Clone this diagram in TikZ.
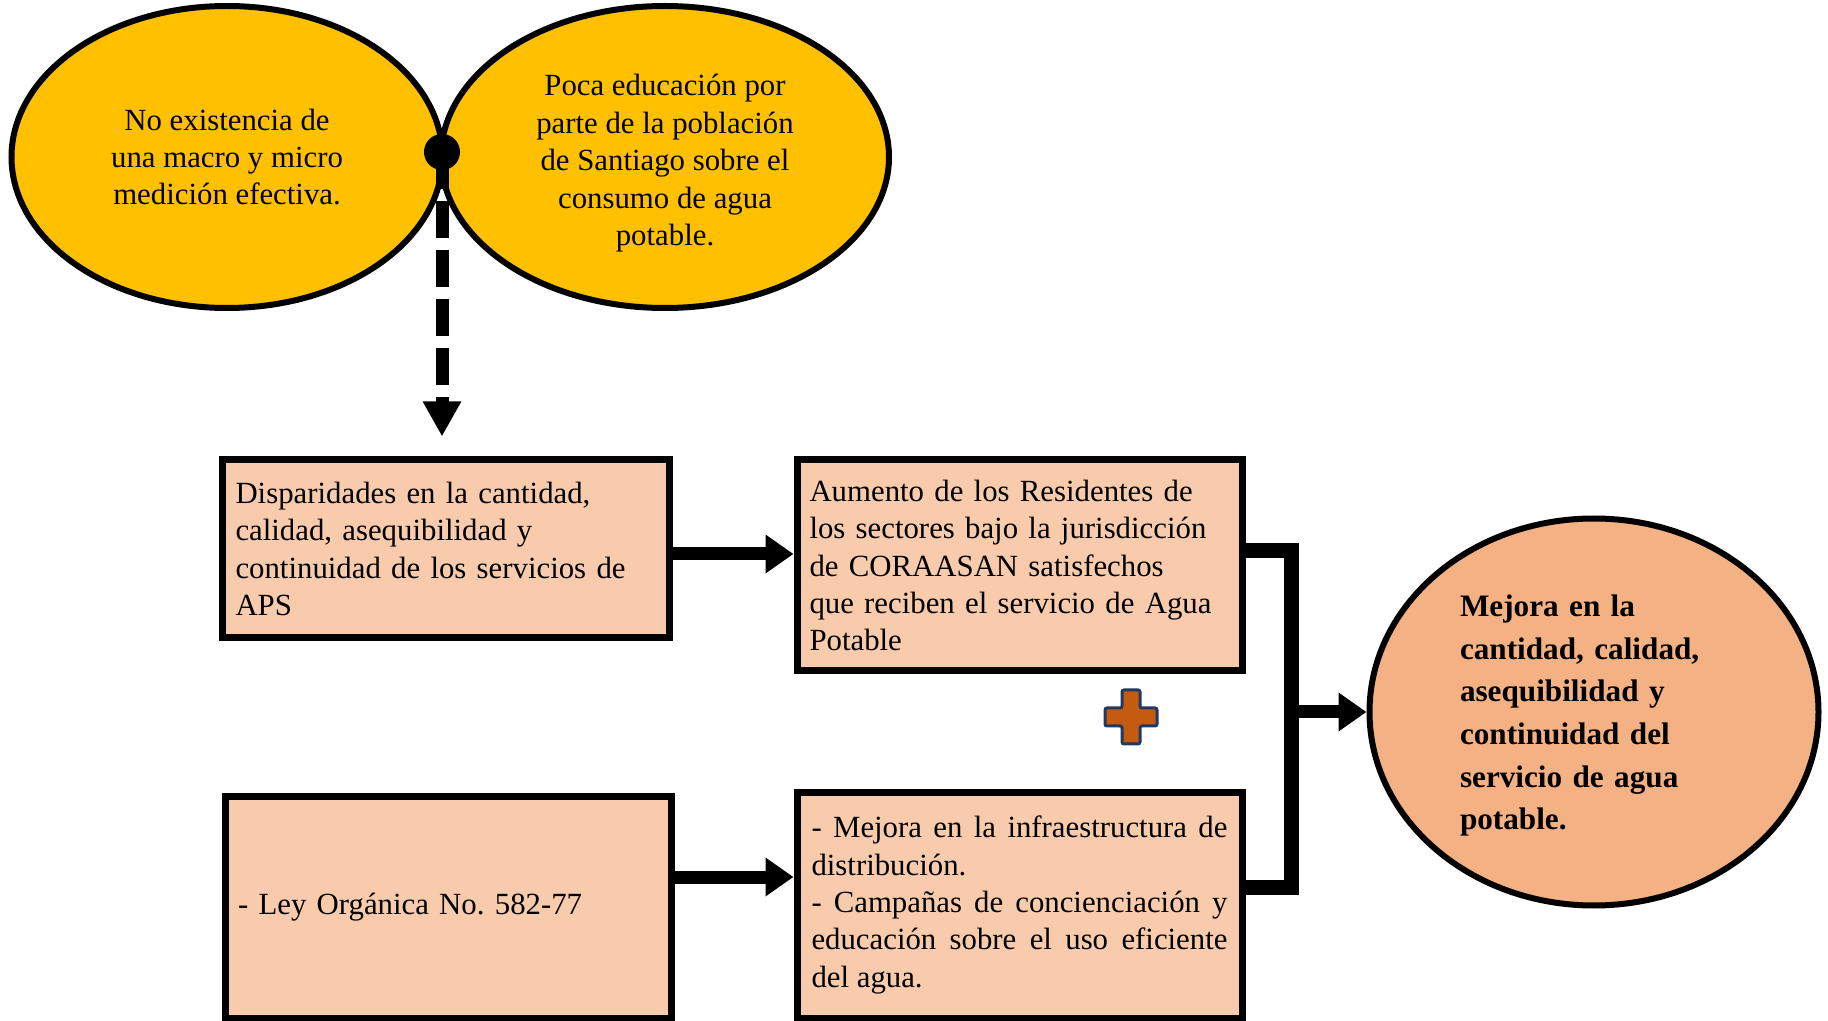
\documentclass[tikz,border=0pt]{standalone}
\usepackage{fontspec}
\setmainfont{Liberation Serif}
\usetikzlibrary{shapes.geometric,arrows.meta}
\definecolor{cause-yellow}{HTML}{FFC000}
\definecolor{box-peach}{HTML}{F8CBAD}
\definecolor{goal-orange}{HTML}{F4B183}
\definecolor{plus-orange}{HTML}{C55A11}
\definecolor{plus-navy}{HTML}{1F3864}
\frenchspacing
\hyphenpenalty=10000
\tikzset{
    cause-ellipse/.style = {draw=black, fill=cause-yellow, line width=3pt, ellipse, inner sep=0pt, align=center, font=\fontsize{15.4pt}{18.7pt}\selectfont},
    problem-box/.style = {draw=black, fill=box-peach, line width=3.5pt, rectangle, inner sep=0pt, text width=210pt, align=left, font=\fontsize{15.4pt}{18.7pt}\selectfont},
    goal-ellipse/.style = {draw=black, fill=goal-orange, line width=3pt, ellipse, inner sep=0pt, text width=134pt, align=left, font=\bfseries\fontsize{15.6pt}{21.3pt}\selectfont},
    flow-arrow/.style = {line width=6.5pt, -{Triangle[length=14pt,width=18.5pt]}},
    dash-arrow/.style = {line width=6.5pt, dash pattern=on 18.5pt off 6pt, -{Triangle[length=17.5pt,width=18pt]}},
    bracket-line/.style = {line width=7.5pt, line join=miter},
    plus-sign/.style = {fill=plus-orange, draw=plus-navy, line width=1.5pt, rounded corners=1pt},
}
\begin{document}
\begin{tikzpicture}[x=0.5pt, y=-0.5pt]
\useasboundingbox (0,0) rectangle (1828,1021);
\node[cause-ellipse, minimum width=215.5pt, minimum height=151pt] (cause1) at (227,157) {No existencia de\\una macro y micro\\medición efectiva.};
\node[cause-ellipse, minimum width=224pt, minimum height=151pt] (cause2) at (665,157) {\rule{0pt}{17pt}Poca educación por\\parte de la población\\de Santiago sobre el\\consumo de agua\\potable.};
\node[circle, fill=black, minimum size=18pt, inner sep=0pt] (junction) at (442,152) {};

\node[problem-box, minimum width=223.5pt, minimum height=89pt] (box1) at (445.5,549) {Disparidades en la cantidad,\\calidad, asequibilidad y\\continuidad de los servicios de\\APS};
\node[problem-box, minimum width=222.5pt, minimum height=105.5pt] (box2) at (1019.5,565.5) {Aumento de los Residentes de\\los sectores bajo la jurisdicción\\de CORAASAN satisfechos\\que reciben el servicio de Agua\\Potable};
\node[problem-box, minimum width=223pt, minimum height=111pt] (box3) at (448,907) {- Ley Orgánica No. 582-77};
\node[problem-box, align=justify, text width=208pt, minimum width=222.5pt, minimum height=113pt] (box4) at (1019.5,905) {- Mejora en la infraestructura de\linebreak distribución.\\- Campañas de concienciación y\linebreak educación sobre el uso eficiente\linebreak del agua.};
\node[goal-ellipse, minimum width=224.5pt, minimum height=193.5pt] (goal) at (1594,712) {\rule{0pt}{14.5pt}Mejora en la\\cantidad, calidad,\\asequibilidad y\\continuidad del\\servicio de agua\\potable.};

\draw[dash-arrow, shorten >=10pt] (junction.center) -- (junction |- box1.north);
\coordinate (a1) at ([yshift=-2.5pt]box1.east);
\draw[flow-arrow] (a1) -- (a1 -| box2.west);
\coordinate (a3) at ([yshift=15pt]box3.east);
\draw[flow-arrow] (a3) -- (a3 -| box4.west);

\coordinate (b2) at ([yshift=7.5pt]box2.east);
\coordinate (b4) at ([yshift=9pt]box4.east);
\coordinate (join) at (1291,712);
\draw[bracket-line] (b2) -- (b2 -| join) -- (join |- b4) -- (b4);
\draw[flow-arrow] (join) -- (goal.west);

\draw[plus-sign] (1122,690) -- (1140,690) -- (1140,708) -- (1157,708) -- (1157,726) -- (1140,726) -- (1140,744) -- (1122,744) -- (1122,726) -- (1105,726) -- (1105,708) -- (1122,708) -- cycle;
\end{tikzpicture}
\end{document}
